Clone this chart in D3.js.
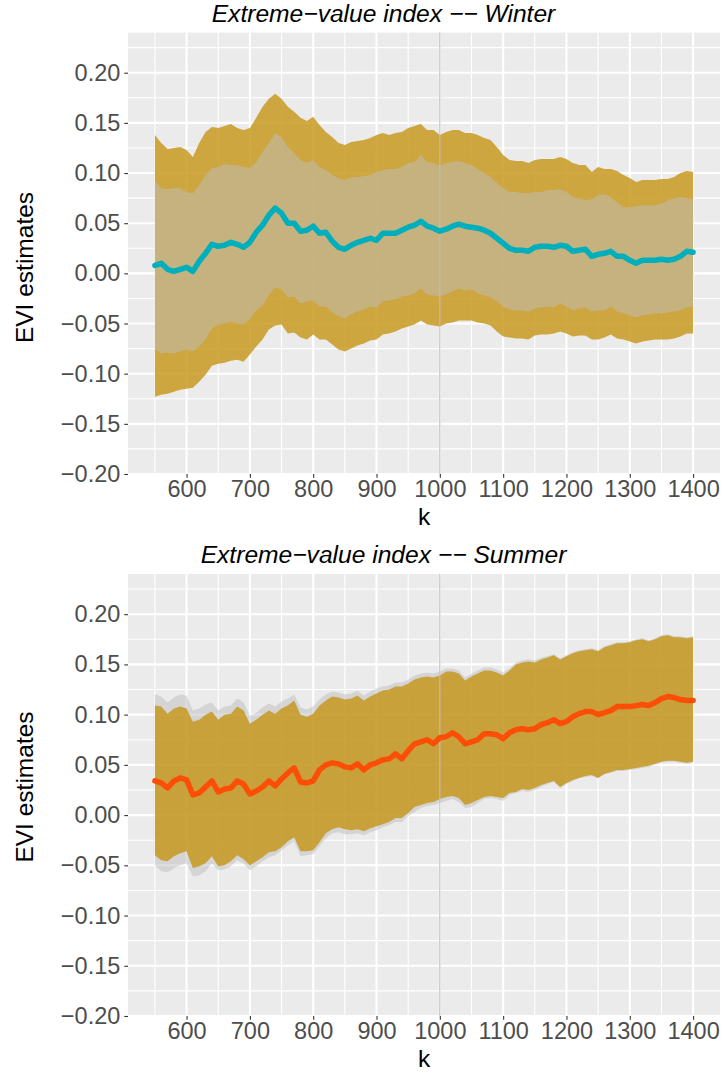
<!DOCTYPE html>
<html>
<head>
<meta charset="utf-8">
<script src="https://cdnjs.cloudflare.com/ajax/libs/d3/7.8.5/d3.min.js"></script>
<style>
  body { margin: 0; background: #fff; }
  text { font-family: "Liberation Sans", Arial, sans-serif; }
</style>
</head>
<body>
<script>
// sample points along k (number of top order statistics)
var kVals = [550,560,570,580,590,600,610,620,630,640,650,660,670,680,690,700,710,720,730,740,
  750,760,770,780,790,800,810,820,830,840,850,860,870,880,890,900,910,920,930,940,
  950,960,970,980,990,1000,1010,1020,1030,1040,1050,1060,1070,1080,1090,1100,1110,1120,1130,1140,
  1150,1160,1170,1180,1190,1200,1210,1220,1230,1240,1250,1260,1270,1280,1290,1300,1310,1320,1330,1340,
  1350,1360,1370,1380,1390,1400];

// winter
var winterEst = [0.008,0.010,0.004,0.002,0.004,0.006,0.002,0.012,0.020,0.029,0.027,0.028,0.031,0.029,0.026,0.031,0.041,0.048,0.058,0.065,
  0.060,0.050,0.050,0.042,0.043,0.047,0.040,0.041,0.032,0.026,0.024,0.028,0.031,0.033,0.035,0.033,0.040,0.040,0.040,0.043,
  0.046,0.048,0.052,0.047,0.045,0.042,0.044,0.047,0.049,0.047,0.046,0.045,0.043,0.040,0.035,0.030,0.025,0.023,0.023,0.022,
  0.026,0.027,0.027,0.026,0.028,0.027,0.022,0.023,0.024,0.017,0.019,0.020,0.022,0.017,0.017,0.013,0.010,0.013,0.013,0.013,
  0.014,0.013,0.014,0.017,0.022,0.021];
var winterOuterHi = [0.138,0.130,0.124,0.125,0.126,0.123,0.116,0.130,0.141,0.146,0.145,0.147,0.149,0.145,0.143,0.145,0.155,0.166,0.174,0.179,
  0.174,0.166,0.161,0.155,0.152,0.156,0.148,0.141,0.136,0.130,0.128,0.131,0.132,0.133,0.135,0.138,0.140,0.138,0.140,0.141,
  0.145,0.147,0.149,0.143,0.143,0.138,0.141,0.143,0.143,0.140,0.140,0.138,0.135,0.133,0.126,0.118,0.113,0.112,0.112,0.110,
  0.113,0.114,0.114,0.114,0.116,0.114,0.110,0.108,0.108,0.101,0.106,0.104,0.104,0.102,0.098,0.095,0.091,0.093,0.093,0.093,
  0.094,0.094,0.096,0.100,0.102,0.101];
var winterOuterLo = [-0.123,-0.121,-0.120,-0.118,-0.116,-0.115,-0.114,-0.108,-0.101,-0.092,-0.090,-0.089,-0.087,-0.086,-0.088,-0.081,-0.073,-0.066,-0.056,-0.052,
  -0.051,-0.060,-0.059,-0.064,-0.066,-0.061,-0.066,-0.066,-0.071,-0.076,-0.078,-0.075,-0.072,-0.070,-0.067,-0.066,-0.061,-0.060,-0.058,-0.055,
  -0.053,-0.051,-0.047,-0.051,-0.052,-0.053,-0.050,-0.049,-0.047,-0.047,-0.047,-0.049,-0.050,-0.052,-0.058,-0.063,-0.064,-0.065,-0.065,-0.066,
  -0.062,-0.061,-0.061,-0.060,-0.058,-0.060,-0.063,-0.062,-0.062,-0.066,-0.066,-0.064,-0.061,-0.065,-0.066,-0.068,-0.070,-0.068,-0.067,-0.066,
  -0.066,-0.066,-0.065,-0.063,-0.060,-0.060];
var winterInnerHi = [0.092,0.085,0.084,0.085,0.085,0.081,0.080,0.088,0.098,0.105,0.106,0.109,0.108,0.108,0.106,0.105,0.111,0.121,0.130,0.140,
  0.136,0.126,0.120,0.113,0.110,0.113,0.106,0.103,0.098,0.095,0.093,0.096,0.096,0.097,0.098,0.101,0.103,0.104,0.104,0.106,
  0.110,0.111,0.118,0.111,0.110,0.107,0.110,0.111,0.112,0.110,0.108,0.104,0.100,0.096,0.090,0.085,0.081,0.081,0.080,0.080,
  0.081,0.081,0.083,0.083,0.084,0.081,0.076,0.075,0.073,0.074,0.078,0.079,0.076,0.071,0.066,0.066,0.067,0.068,0.068,0.068,
  0.070,0.073,0.075,0.076,0.075,0.074];
var winterInnerLo = [-0.076,-0.080,-0.079,-0.080,-0.078,-0.076,-0.078,-0.073,-0.066,-0.055,-0.051,-0.050,-0.048,-0.050,-0.051,-0.045,-0.037,-0.032,-0.022,-0.014,
  -0.016,-0.024,-0.023,-0.030,-0.028,-0.027,-0.033,-0.033,-0.039,-0.043,-0.045,-0.041,-0.038,-0.036,-0.033,-0.034,-0.028,-0.027,-0.026,-0.023,
  -0.022,-0.020,-0.015,-0.021,-0.022,-0.023,-0.021,-0.018,-0.015,-0.017,-0.016,-0.020,-0.022,-0.024,-0.028,-0.033,-0.036,-0.037,-0.037,-0.038,
  -0.035,-0.034,-0.033,-0.034,-0.030,-0.033,-0.037,-0.035,-0.034,-0.038,-0.037,-0.037,-0.033,-0.038,-0.040,-0.042,-0.044,-0.042,-0.041,-0.040,
  -0.040,-0.039,-0.038,-0.037,-0.034,-0.033];

// summer
var summerEst = [0.034,0.032,0.027,0.034,0.037,0.035,0.020,0.022,0.028,0.034,0.023,0.026,0.027,0.034,0.031,0.021,0.024,0.028,0.034,0.029,
  0.036,0.042,0.047,0.033,0.032,0.034,0.045,0.050,0.052,0.051,0.048,0.047,0.051,0.045,0.050,0.052,0.055,0.056,0.061,0.056,
  0.064,0.071,0.073,0.075,0.071,0.077,0.078,0.082,0.078,0.071,0.073,0.075,0.081,0.081,0.080,0.076,0.082,0.085,0.086,0.085,
  0.086,0.090,0.092,0.095,0.091,0.093,0.098,0.101,0.103,0.103,0.100,0.102,0.104,0.108,0.108,0.108,0.109,0.110,0.109,0.112,
  0.116,0.118,0.117,0.115,0.114,0.114];
var summerGoldHi = [0.109,0.108,0.101,0.106,0.108,0.106,0.093,0.095,0.100,0.103,0.095,0.100,0.101,0.108,0.104,0.091,0.095,0.100,0.104,0.101,
  0.106,0.109,0.114,0.100,0.098,0.101,0.109,0.114,0.118,0.117,0.115,0.116,0.119,0.114,0.118,0.121,0.124,0.125,0.128,0.128,
  0.131,0.135,0.137,0.138,0.137,0.139,0.143,0.143,0.141,0.134,0.138,0.141,0.144,0.144,0.142,0.139,0.144,0.150,0.152,0.153,
  0.152,0.155,0.157,0.159,0.155,0.158,0.161,0.163,0.164,0.165,0.163,0.167,0.169,0.171,0.171,0.172,0.174,0.175,0.173,0.175,
  0.178,0.179,0.177,0.177,0.176,0.177];
var summerGoldLo = [-0.040,-0.045,-0.046,-0.041,-0.038,-0.036,-0.053,-0.051,-0.048,-0.041,-0.051,-0.050,-0.046,-0.040,-0.044,-0.050,-0.046,-0.042,-0.037,-0.036,
  -0.032,-0.026,-0.022,-0.036,-0.036,-0.035,-0.027,-0.018,-0.014,-0.012,-0.014,-0.015,-0.014,-0.016,-0.013,-0.011,-0.009,-0.007,-0.003,-0.003,
  0.002,0.008,0.010,0.012,0.013,0.016,0.018,0.019,0.017,0.010,0.012,0.015,0.018,0.019,0.018,0.017,0.022,0.023,0.026,0.025,
  0.027,0.030,0.032,0.034,0.028,0.032,0.035,0.037,0.039,0.040,0.037,0.041,0.043,0.045,0.045,0.046,0.047,0.048,0.049,0.051,
  0.053,0.054,0.054,0.053,0.052,0.053];
var summerGreyHi = [0.120,0.118,0.112,0.117,0.120,0.119,0.104,0.106,0.110,0.112,0.104,0.108,0.109,0.116,0.112,0.099,0.102,0.107,0.111,0.108,
  0.113,0.116,0.120,0.107,0.105,0.108,0.115,0.120,0.123,0.122,0.120,0.121,0.124,0.119,0.123,0.126,0.128,0.129,0.132,0.132,
  0.135,0.139,0.141,0.142,0.141,0.143,0.146,0.146,0.144,0.137,0.141,0.144,0.147,0.147,0.145,0.142,0.146,0.152,0.154,0.155,
  0.154,0.157,0.158,0.160,0.156,0.159,0.162,0.164,0.165,0.166,0.164,0.168,0.170,0.172,0.172,0.173,0.175,0.176,0.174,0.176,
  0.179,0.180,0.178,0.178,0.177,0.178];
var summerGreyLo = [-0.050,-0.056,-0.057,-0.053,-0.050,-0.048,-0.061,-0.060,-0.056,-0.048,-0.055,-0.054,-0.051,-0.045,-0.048,-0.055,-0.051,-0.046,-0.042,-0.040,
  -0.035,-0.030,-0.026,-0.041,-0.040,-0.039,-0.031,-0.023,-0.018,-0.017,-0.019,-0.019,-0.018,-0.020,-0.017,-0.015,-0.012,-0.010,-0.007,-0.007,
  -0.001,0.003,0.007,0.009,0.010,0.012,0.014,0.016,0.013,0.007,0.008,0.012,0.016,0.017,0.016,0.014,0.020,0.022,0.024,0.023,
  0.025,0.028,0.031,0.033,0.027,0.031,0.034,0.037,0.038,0.039,0.037,0.041,0.042,0.044,0.044,0.045,0.046,0.047,0.048,0.050,
  0.052,0.053,0.053,0.052,0.051,0.052];

var xTicks = [600,700,800,900,1000,1100,1200,1300,1400];
var yTicks = [-0.20,-0.15,-0.10,-0.05,0.00,0.05,0.10,0.15,0.20];
var yMinor = [-0.175,-0.125,-0.075,-0.025,0.025,0.075,0.125,0.175,0.225];
var xMinor = [550,650,750,850,950,1050,1150,1250,1350];

var width = 723, height = 1074;
var left = 128, right = 720;

var svg = d3.select("body").append("svg")
	.attr("width", width)
	.attr("height", height);

var xScale = d3.scaleLinear()
	.domain([507.5, 1442.5])
	.range([left, right]);

var goldFill = "rgb(198,150,26)", goldOp = 0.82;
var greyFill = "#bebebe", greyOp = 0.5;

function fmt(v){
	var s = Math.abs(v).toFixed(2);
	return (v < -1e-9 ? "\u2212" : "") + s;
}

function panel(top, bottom, title, titleY, yLabelY, layers, est, lineColor){
	var g = svg.append("g");
	var yScale = d3.scaleLinear()
		.domain([-0.2, 0.24])
		.range([bottom, top]);

	g.append("rect")
		.attr("x", left).attr("y", top)
		.attr("width", right - left).attr("height", bottom - top)
		.attr("fill", "#ebebeb");

	// grid
	g.selectAll(".ymin").data(yMinor).enter().append("line")
		.attr("x1", left).attr("x2", right)
		.attr("y1", function(d){ return yScale(d); })
		.attr("y2", function(d){ return yScale(d); })
		.attr("stroke", "#fff").attr("stroke-width", 1.1);
	g.selectAll(".xmin").data(xMinor).enter().append("line")
		.attr("y1", top).attr("y2", bottom)
		.attr("x1", function(d){ return xScale(d); })
		.attr("x2", function(d){ return xScale(d); })
		.attr("stroke", "#fff").attr("stroke-width", 1.1);
	g.selectAll(".ymaj").data(yTicks).enter().append("line")
		.attr("x1", left).attr("x2", right)
		.attr("y1", function(d){ return yScale(d); })
		.attr("y2", function(d){ return yScale(d); })
		.attr("stroke", "#fff").attr("stroke-width", 2.1);
	g.selectAll(".xmaj").data(xTicks).enter().append("line")
		.attr("y1", top).attr("y2", bottom)
		.attr("x1", function(d){ return xScale(d); })
		.attr("x2", function(d){ return xScale(d); })
		.attr("stroke", "#fff").attr("stroke-width", 2.1);

	// bands
	layers.forEach(function(L){
		var area = d3.area()
			.x(function(d, i){ return xScale(kVals[i]); })
			.y0(function(d, i){ return yScale(L.lo[i]); })
			.y1(function(d, i){ return yScale(L.hi[i]); });
		g.append("path")
			.attr("d", area(kVals))
			.attr("fill", L.fill)
			.attr("fill-opacity", L.op);
	});

	// reference line at k = 1000
	g.append("line")
		.attr("x1", xScale(1000)).attr("x2", xScale(1000))
		.attr("y1", top).attr("y2", bottom)
		.attr("stroke", "#bdbdbd").attr("stroke-width", 1.1);

	var line = d3.line()
		.x(function(d, i){ return xScale(kVals[i]); })
		.y(function(d){ return yScale(d); });
	g.append("path")
		.attr("d", line(est))
		.attr("fill", "none")
		.attr("stroke", lineColor)
		.attr("stroke-width", 5.5)
		.attr("stroke-linejoin", "round")
		.attr("stroke-linecap", "round");

	// axes
	var yAxis = g.append("g").attr("transform", "translate(" + left + ",0)")
		.call(d3.axisLeft(yScale).tickValues(yTicks).tickSize(3.7).tickPadding(4).tickFormat(fmt));
	var xAxis = g.append("g").attr("transform", "translate(0," + bottom + ")")
		.call(d3.axisBottom(xScale).tickValues(xTicks).tickSize(3.7).tickPadding(3).tickFormat(d3.format("d")));
	[yAxis, xAxis].forEach(function(a){
		a.select(".domain").remove();
		a.selectAll(".tick line").attr("stroke", "#333").attr("stroke-width", 1.1);
		a.selectAll(".tick text")
			.attr("fill", "#4d4d4d")
			.style("font-size", "23.5px")
			.style("font-family", "'Liberation Sans', Arial, sans-serif");
	});

	g.append("text")
		.attr("x", 383.5).attr("y", titleY)
		.attr("text-anchor", "middle")
		.style("font-size", "24.6px")
		.style("font-style", "italic")
		.text(title);

	g.append("text")
		.attr("x", (left + right) / 2).attr("y", bottom + 51)
		.attr("text-anchor", "middle")
		.style("font-size", "24.5px")
		.text("k");

	g.append("text")
		.attr("transform", "translate(33," + yLabelY + ") rotate(-90)")
		.attr("text-anchor", "middle")
		.style("font-size", "24.5px")
		.text("EVI estimates");
}

panel(32.6, 474, "Extreme\u2212value index \u2212\u2212 Winter", 21.7, 267.5,
	[{lo: winterOuterLo, hi: winterOuterHi, fill: goldFill, op: goldOp},
	 {lo: winterInnerLo, hi: winterInnerHi, fill: greyFill, op: greyOp}],
	winterEst, "#00afbb");

panel(574, 1016, "Extreme\u2212value index \u2212\u2212 Summer", 562.5, 787,
	[{lo: summerGreyLo, hi: summerGreyHi, fill: greyFill, op: greyOp},
	 {lo: summerGoldLo, hi: summerGoldHi, fill: goldFill, op: goldOp}],
	summerEst, "#fc4e07");
</script>
</body>
</html>
